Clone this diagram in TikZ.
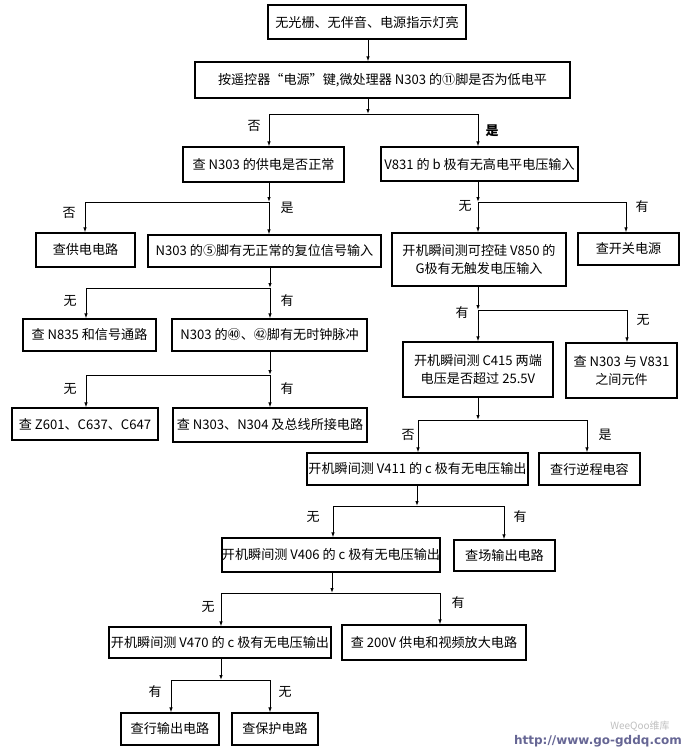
\documentclass[tikz,border=0pt]{standalone}
\usepackage{fontspec}
\newfontfamily\cjk{Noto Sans CJK SC}
\usetikzlibrary{arrows.meta}
\tikzset{
  box/.style={draw, line width=1.3pt, inner sep=0pt, align=center,
    font=\cjk\fontsize{13.1}{18}\selectfont},
  arr/.style={line width=0.9pt, -{Latex[length=5pt,width=3.5pt]}},
  ln/.style={line width=0.9pt},
  lbl/.style={font=\cjk\fontsize{13}{16}\selectfont, inner sep=0pt},
  wm/.style={font=\fontspec{DejaVu Sans}\bfseries\fontsize{12}{14}\selectfont, text=black!70!blue!60, inner sep=0pt}
}
\newcommand{\bx}[6]{\node[box, minimum width=#4pt-#2pt, minimum height=#5pt-#3pt] (#1) at ({(#2+#4)/2},{(#3+#5)/2}) {#6};}
% branch: name, from, stemx, hy, lx, left target, rx, right target
\newcommand{\branch}[8]{%
  \coordinate (#1s) at (#3,#4);
  \coordinate (#1l) at (#5,#4);
  \coordinate (#1r) at (#7,#4);
  \draw[arr] (#2.south -| #1s) -- (#1s);
  \draw[ln] (#1l) -- (#1r);
  \draw[arr] (#1l) -- (#1l |- #6.north);
  \draw[arr] (#1r) -- (#1r |- #8.north);
}
\begin{document}
\begin{tikzpicture}[x=1pt,y=-1pt]
\useasboundingbox (0,0) rectangle (692,755);
\bx{b1}{268}{5}{466}{39}{无光栅、无伴音、电源指示灯亮}
\bx{b2}{195}{62}{570}{98}{按遥控器“电源”键,微处理器 N303 的⑪脚是否为低电平}
\bx{b3}{183}{147}{344}{182}{查 N303 的供电是否正常}
\bx{b4}{381}{147}{578}{181}{V831 的 b 极有无高电平电压输入}
\bx{b5}{36}{233}{135}{267}{查供电电路}
\bx{b6}{148}{235}{381}{267}{N303 的⑤脚有无正常的复位信号输入}
\bx{b7}{392}{233}{566}{286}{开机瞬间测可控硅 V850 的\\G极有无触发电压输入}
\bx{b8}{578}{233}{679}{265}{查开关电源}
\bx{b9}{23}{319}{156}{351}{查 N835 和信号通路}
\bx{b10}{172}{319}{367}{351}{N303 的㊵、㊷脚有无时钟脉冲}
\bx{b11}{403}{342}{553}{397}{开机瞬间测 C415 两端\\电压是否超过 25.5V}
\bx{b12}{566}{343}{677}{398}{查 N303 与 V831\\之间元件}
\bx{b13}{12}{408}{158}{440}{查 Z601、C637、C647}
\bx{b14}{173}{408}{367}{442}{查 N303、N304 及总线所接电路}
\bx{b15}{307}{453}{528}{485}{开机瞬间测 V411 的 c 极有无电压输出}
\bx{b16}{539}{453}{640}{485}{查行逆程电容}
\bx{b17}{222}{538}{440}{572}{开机瞬间测 V406 的 c 极有无电压输出}
\bx{b18}{454}{540}{555}{571}{查场输出电路}
\bx{b19}{109}{627}{331}{658}{开机瞬间测 V470 的 c 极有无电压输出}
\bx{b20}{342}{625}{526}{660}{查 200V 供电和视频放大电路}
\bx{b21}{121}{713}{219}{745}{查行输出电路}
\bx{b22}{232}{713}{318}{745}{查保护电路}

\coordinate (c1) at (368,0);
\draw[arr] (b1.south -| c1) -- (b2.north -| c1);
\branch{A}{b2}{368}{114}{269}{b3}{478}{b4}
\branch{B}{b3}{269}{202}{85}{b5}{269}{b6}
\branch{C}{b4}{478}{202}{478}{b7}{626}{b8}
\branch{D}{b6}{270}{288}{86}{b9}{270}{b10}
\branch{E}{b10}{270}{375}{86}{b13}{270}{b14}
\branch{F}{b7}{478}{310}{478}{b11}{627}{b12}
\branch{G}{b11}{478}{420}{418}{b15}{587}{b16}
\branch{H}{b15}{417}{506}{333}{b17}{504}{b18}
\branch{I}{b17}{332}{593}{221}{b19}{440}{b20}
\branch{J}{b19}{221}{680}{171}{b21}{270}{b22}

\node[lbl] (lA1) at (254,126) {否};
\node[lbl, font=\cjk\bfseries\fontsize{13}{16}\selectfont] (lA2) at (492,131) {是};
\node[lbl] (lB1) at (69,213) {否};
\node[lbl] (lB2) at (287,208) {是};
\node[lbl] (lC1) at (465,206) {无};
\node[lbl] (lC2) at (642,207) {有};
\node[lbl] (lD1) at (70,301) {无};
\node[lbl] (lD2) at (287,301) {有};
\node[lbl] (lE1) at (70,389) {无};
\node[lbl] (lE2) at (287,389) {有};
\node[lbl] (lF1) at (462,313) {有};
\node[lbl] (lF2) at (643,320) {无};
\node[lbl] (lG1) at (408,435) {否};
\node[lbl] (lG2) at (605,435) {是};
\node[lbl] (lH1) at (313,517) {无};
\node[lbl] (lH2) at (520,517) {有};
\node[lbl] (lI1) at (208,607) {无};
\node[lbl] (lI2) at (458,603) {有};
\node[lbl] (lJ1) at (155,692) {有};
\node[lbl] (lJ2) at (285,692) {无};

\node[lbl, font=\cjk\itshape\fontsize{10}{12}\selectfont, text=black!25] (wm2) at (640,726) {WeeQoo维库};
\node[wm] (wm1) at (598,741) {http://www.go-gddq.com};
\end{tikzpicture}
\end{document}
